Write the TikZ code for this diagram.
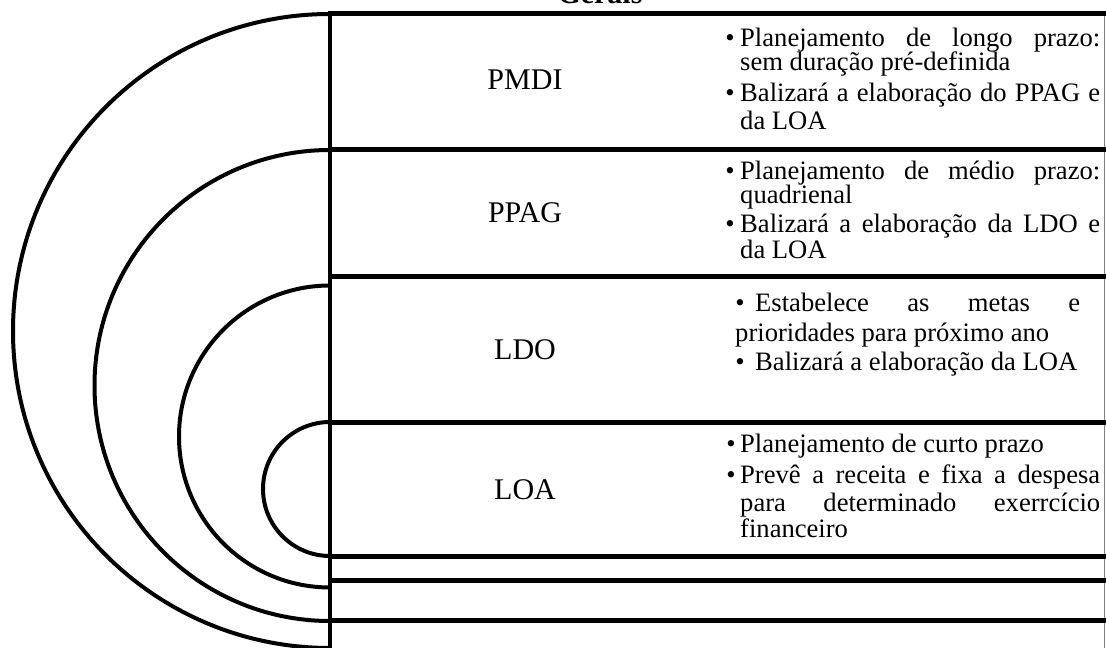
\documentclass[tikz,border=0pt]{standalone}
\usepackage{fontspec}
\setmainfont{Liberation Serif}
\tikzset{
  bar/.style={line width=5pt},
  ring/.style={line width=4pt},
  lbl/.style={font=\fontsize{30}{36}\selectfont, anchor=base, inner sep=0pt},
  txt/.style={font=\fontsize{26.6}{30}\selectfont, anchor=base west, inner sep=0pt},
  bul/.style={font=\fontsize{26.6}{30}\selectfont, anchor=base, inner sep=0pt},
}
\newcommand{\jst}[2]{\makebox[#1pt][s]{#2}}
\begin{document}
\begin{tikzpicture}[x=1pt,y=1pt]
\path[use as bounding box] (0,0) rectangle (1106,648);
\begin{scope}
\clip (0,0) rectangle (1106,648);
% title (cut off at top)
\node[font=\bfseries\fontsize{30}{36}\selectfont, anchor=base, inner sep=0pt] (title) at (600,644) {Gerais};
% nested arcs
\draw[ring] (330,634) arc[start angle=90, end angle=270, radius=317];
\draw[ring] (330,498) arc[start angle=90, end angle=270, radius=235.5];
\draw[ring] (330,362.5) arc[start angle=90, end angle=270, radius=151];
\draw[ring] (330,226) arc[start angle=90, end angle=270, radius=67];
% vertical axis
\draw[line width=4.5pt] (330,636) -- (330,0);
% right border
\draw[gray, line width=1pt] (1104.5,634) -- (1104.5,0);
% horizontal bars
\foreach \yy in {634,498,371,225,91,67,27}
  \draw[bar] (328,\yy) -- (1106,\yy);
% labels
\node[lbl] (pmdi) at (525,558) {PMDI};
\node[lbl] (ppag) at (525,425) {PPAG};
\node[lbl] (ldo)  at (525,288) {LDO};
\node[lbl] (loa)  at (525,148) {LOA};
% PMDI text
\node[bul] (b1) at (730,601) {\textbullet};
\node[txt] (t1a) at (740,601) {\jst{360}{Planejamento de longo prazo:}};
\node[txt] (t1b) at (740,577) {sem duração pré-definida};
\node[bul] (b2) at (730,546) {\textbullet};
\node[txt] (t1c) at (740,546) {\jst{360}{Balizará a elaboração do PPAG e}};
\node[txt] (t1d) at (740,518) {da LOA};
% PPAG text
\node[bul] (b3) at (730,468) {\textbullet};
\node[txt] (t2a) at (740,468) {\jst{360}{Planejamento de médio prazo:}};
\node[txt] (t2b) at (740,444) {quadrienal};
\node[bul] (b4) at (730,415) {\textbullet};
\node[txt] (t2c) at (740,415) {\jst{360}{Balizará a elaboração da LDO e}};
\node[txt] (t2d) at (740,389) {da LOA};
% LDO text
\node[bul] (b5) at (740,336) {\textbullet};
\node[txt] (t3a) at (755,336) {\jst{325}{Estabelece as metas e}};
\node[txt] (t3b) at (735,306) {prioridades para próximo ano};
\node[bul] (b6) at (740,277) {\textbullet};
\node[txt] (t3c) at (755,277) {Balizará a elaboração da LOA};
% LOA text
\node[bul] (b7) at (731,195) {\textbullet};
\node[txt] (t4a) at (740,195) {Planejamento de curto prazo};
\node[bul] (b8) at (731,164) {\textbullet};
\node[txt] (t4b) at (740,164) {\jst{360}{Prevê a receita e fixa a despesa}};
\node[txt] (t4c) at (740,136) {\jst{360}{para determinado exerrcício}};
\node[txt] (t4d) at (740,110) {financeiro};
\end{scope}
\end{tikzpicture}
\end{document}
